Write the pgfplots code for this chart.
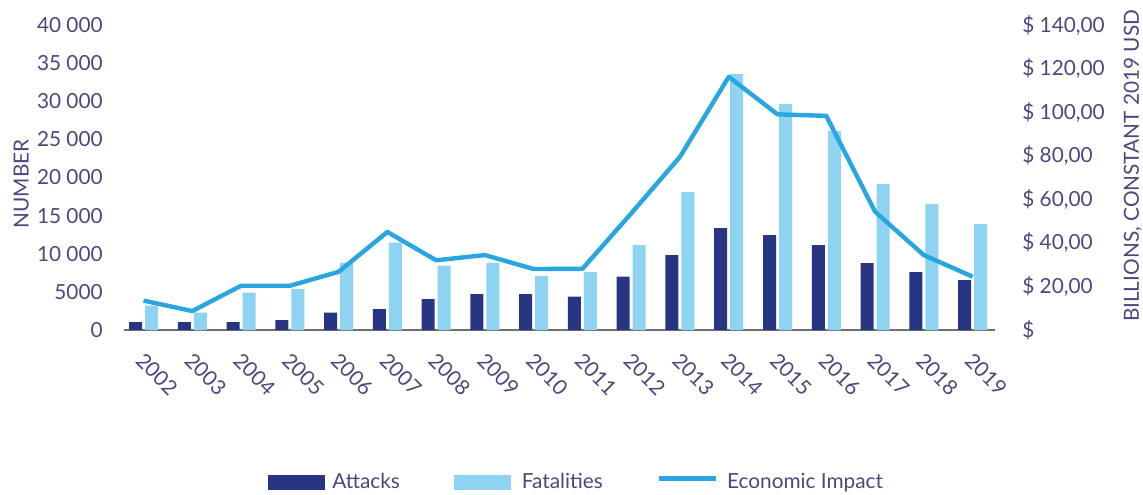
\documentclass[border=0pt]{standalone}
\usepackage{fontspec}
\setmainfont{Lato}
\usepackage{pgfplots}
\usepackage{pgfplotstable}
\pgfplotsset{compat=1.18}
\definecolor{attk}{HTML}{283583}
\definecolor{fatl}{HTML}{8FD3F3}
\definecolor{eco}{HTML}{27A6E1}
\definecolor{txt}{HTML}{4A4880}
\definecolor{axl}{HTML}{707070}

\pgfplotstableread{
x attacks fatalities impact
0 1050 3200 13.5
1 1050 2270 8.7
2 1050 4900 20.3
3 1300 5400 20.3
4 2270 8800 26.7
5 2750 11450 45.0
6 4060 8430 32.0
7 4700 8800 34.4
8 4700 7080 28.0
9 4370 7600 28.1
10 6990 11140 53.5
11 9830 18090 79.5
12 13370 33550 116.2
13 12450 29620 99.0
14 11140 26080 98.3
15 8780 19135 54.3
16 7600 16500 34.4
17 6550 13900 24.5
}\datatable

\begin{document}
\fontsize{10.4pt}{12pt}\selectfont
\begin{tikzpicture}[x=1pt,y=1pt]
\path[use as bounding box] (-62,-82) rectangle (509.5,165);
\begin{axis}[
  at={(0,0)}, anchor=south west, scale only axis,
  width=435.5pt, height=152.5pt,
  xmin=-0.40, xmax=17.46, ymin=0, ymax=40000,
  scaled y ticks=false,
  axis x line*=bottom, axis y line*=left,
  x axis line style={draw=axl, line width=0.8pt, -},
  y axis line style={draw=none},
  tick style={draw=none},
  xtick={0,...,17},
  xticklabels={2002,2003,2004,2005,2006,2007,2008,2009,2010,2011,2012,2013,2014,2015,2016,2017,2018,2019},
  xticklabel style={rotate=-45, anchor=north west, xshift=4.65pt, yshift=-3.4pt},
  ytick={0,5000,10000,15000,20000,25000,30000,35000,40000},
  yticklabels={0,5000,10 000,15 000,20 000,25 000,30 000,35 000,40 000},
  yticklabel style={anchor=east, xshift=-7pt},
  ylabel={NUMBER},
  ylabel style={at={(axis description cs:-0.118,0.479)}, anchor=center},
  every tick label/.append style={font=\fontsize{10.4pt}{12pt}\selectfont, text=txt},
  label style={font=\fontsize{10.4pt}{12pt}\selectfont, text=txt},
  clip=false,
  legend style={draw=none, fill=none, legend columns=3, inner sep=0pt,
    at={(rel axis cs:0.1653,-0.50)}, anchor=west,
    font=\fontsize{10.4pt}{12pt}\selectfont, text=txt,
    /tikz/every even column/.append style={column sep=25pt},
    legend cell align=left},
]
\addlegendimage{legend image code/.code={\fill[attk, draw=none] (0pt,-3.75pt) rectangle (28.5pt,3.75pt); \path[draw=none, fill=none] (0pt,0pt) -- (30pt,0pt);}}
\addlegendentry{Attacks}
\addlegendimage{legend image code/.code={\fill[fatl, draw=none] (0pt,-3.75pt) rectangle (28.5pt,3.75pt); \path[draw=none, fill=none] (0pt,0pt) -- (32pt,0pt);}}
\addlegendentry{Fatalities}
\addlegendimage{legend image code/.code={\draw[eco, line width=2.2pt] (0pt,2pt) -- (28.5pt,2pt); \path[draw=none, fill=none] (0pt,0pt) -- (32pt,0pt);}}
\addlegendentry{Economic Impact}
\addplot[ybar, bar width=6.5pt, bar shift=-4pt, fill=attk, draw=none, forget plot] table[x=x, y=attacks] {\datatable};
\addplot[ybar, bar width=6.5pt, bar shift=4pt, fill=fatl, draw=none, forget plot] table[x=x, y=fatalities] {\datatable};
\end{axis}
\begin{axis}[
  at={(0,0)}, anchor=south west, scale only axis,
  width=435.5pt, height=152.5pt,
  xmin=-0.40, xmax=17.46, ymin=0, ymax=140,
  axis x line=none, axis y line*=right,
  y axis line style={draw=none},
  tick style={draw=none},
  ytick={0,20,40,60,80,100,120,140},
  yticklabels={\$,{\$ 20,00},{\$ 40,00},{\$ 60,00},{\$ 80,00},{\$ 100,00},{\$ 120,00},{\$ 140,00}},
  yticklabel style={anchor=west, xshift=10pt, font=\fontsize{10.4pt}{12pt}\selectfont, text=txt},
  ylabel={BILLIONS, CONSTANT 2019 USD},
  ylabel style={at={(axis description cs:1.158,0.538)}, anchor=center, font=\fontsize{10.4pt}{12pt}\selectfont, text=txt},
  clip=false,
]
\addplot[eco, line width=2.2pt, line join=round] table[x=x, y=impact] {\datatable};
\end{axis}
\end{tikzpicture}
\end{document}
